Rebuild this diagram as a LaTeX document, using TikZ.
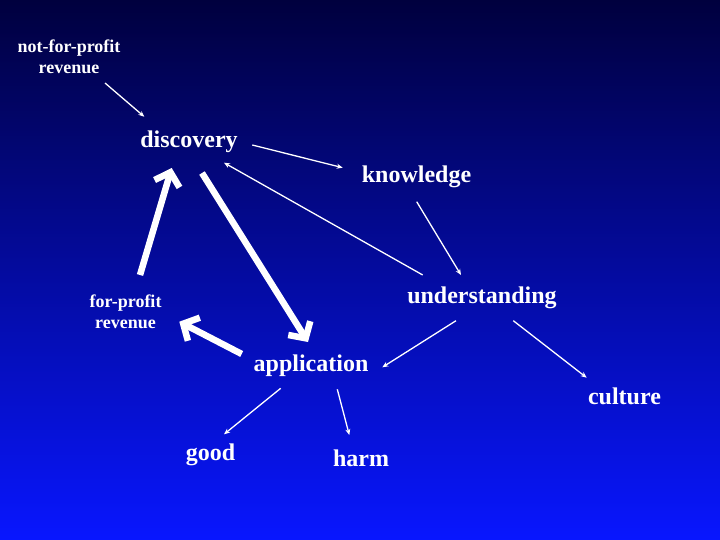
\documentclass[tikz,border=0pt]{standalone}
\usepackage{fontspec}
\setmainfont{Liberation Serif}
\usetikzlibrary{arrows.meta}
\definecolor{bgtop}{RGB}{0,0,62}
\definecolor{bgbot}{RGB}{8,22,255}
\tikzset{
  lbl/.style={text=white, inner sep=0pt, anchor=base, font=\bfseries\fontsize{24}{28}\selectfont},
  smalllbl/.style={lbl, align=center, font=\bfseries\fontsize{18}{21}\selectfont},
  thinarrow/.style={draw=white, line width=1.3pt, -{Stealth[length=6pt,width=5pt]}},
  thickarrow/.style={draw=white, line width=6.5pt, -{Straight Barb[length=12pt,width=26pt]}}
}
\begin{document}
\begin{tikzpicture}[x=1pt,y=-1pt]
\shade[top color=bgtop, bottom color=bgbot] (0,0) rectangle (720,540);
\useasboundingbox (0,0) rectangle (720,540);

\node[smalllbl] (nfp) at (69,74) {not-for-profit\\revenue};
\node[lbl] (disc) at (189,148) {discovery};
\node[lbl] (know) at (416.5,183) {knowledge};
\node[lbl] (under) at (482,303) {understanding};
\node[smalllbl] (fpr) at (125.5,328) {for-profit\\revenue};
\node[lbl] (app) at (311,371) {application};
\node[lbl] (cult) at (624.5,404) {culture};
\node[lbl] (good) at (210.5,460) {good};
\node[lbl] (harm) at (361,466) {harm};

\draw[thinarrow] ([shift={(36,9)}]nfp.base) -- ([shift={(-44.7,-31.3)}]disc.base);
\draw[thinarrow] ([shift={(63.3,-3)}]disc.base) -- ([shift={(-73.8,-15.3)}]know.base);
\draw[thinarrow] ([shift={(-59.3,-28)}]under.base) -- ([shift={(35,14.7)}]disc.base);
\draw[thinarrow] ([shift={(0.2,18.7)}]know.base) -- ([shift={(-21,-28)}]under.base);
\draw[thinarrow] ([shift={(-26,17.7)}]under.base) -- ([shift={(71.3,-3.7)}]app.base);
\draw[thinarrow] ([shift={(31.3,17.7)}]under.base) -- ([shift={(-37.8,-26.3)}]cult.base);
\draw[thinarrow] ([shift={(-30.3,17.3)}]app.base) -- ([shift={(13.5,-25.7)}]good.base);
\draw[thinarrow] ([shift={(26.3,18.3)}]app.base) -- ([shift={(-11.7,-31)}]harm.base);

\draw[thickarrow] ([shift={(14.5,-53)}]fpr.base) -- ([shift={(-17.3,20)}]disc.base);
\draw[thickarrow] ([shift={(13,25)}]disc.base) -- ([shift={(-3,-29)}]app.base);
\draw[thickarrow] ([shift={(-69.3,-17)}]app.base) -- ([shift={(53.8,-6.3)}]fpr.base);
\end{tikzpicture}
\end{document}
